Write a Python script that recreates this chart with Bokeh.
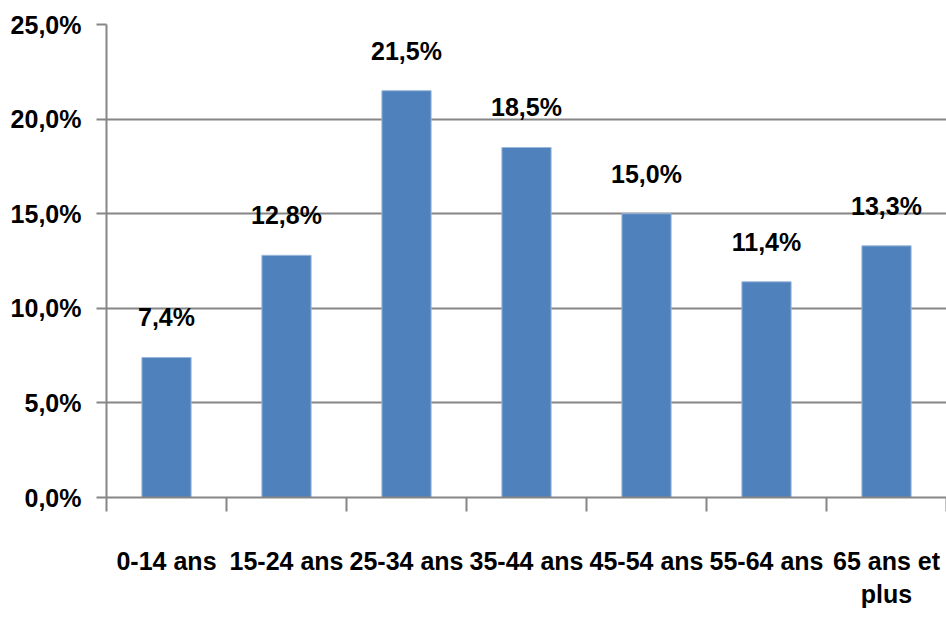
from bokeh.plotting import figure
from bokeh.models import Range1d, FixedTicker, LinearAxis, ColumnDataSource
from bokeh.embed import file_html
from bokeh.resources import INLINE
from bokeh.core.properties import value

categories = ["0-14 ans", "15-24 ans", "25-34 ans", "35-44 ans", "45-54 ans", "55-64 ans", "65 ans et\nplus"]
values = [7.4, 12.8, 21.5, 18.5, 15.0, 11.4, 13.3]
bar_labels = ["7,4%", "12,8%", "21,5%", "18,5%", "15,0%", "11,4%", "13,3%"]
y_ticks = [0, 5, 10, 15, 20, 25]
y_tick_labels = ["0,0%", "5,0%", "10,0%", "15,0%", "20,0%", "25,0%"]

FONT = "Liberation Sans"
GRAY = "#868686"

n = len(categories)
centers = [i + 0.5 for i in range(n)]
src = ColumnDataSource(dict(x=centers, top=values, lab=bar_labels))

p = figure(width=946, height=627, output_backend="svg", toolbar_location=None,
           x_range=Range1d(0, n), y_range=Range1d(0, 25),
           min_border_left=106, min_border_top=24, min_border_bottom=130, min_border_right=0)
p.outline_line_color = None
p.background_fill_color = "white"

p.vbar(x="x", top="top", width=0.41, source=src, fill_color="#4F81BD", line_color="#9BB7DA", line_width=1)
p.text(x="x", y="top", text="lab", source=src, text_align="center", text_baseline="bottom",
       y_offset=-26, text_font=value(FONT), text_font_style="bold", text_font_size="25px", text_color="black")

# y axis
ya = p.yaxis[0]
ya.ticker = FixedTicker(ticks=y_ticks)
ya.major_label_overrides = {t: l for t, l in zip(y_ticks, y_tick_labels)}
ya.axis_line_color = GRAY
ya.axis_line_width = 2
ya.major_tick_line_color = GRAY
ya.major_tick_line_width = 2
ya.major_tick_out = 10
ya.major_tick_in = 0
ya.minor_tick_line_color = None
ya.major_label_text_font = FONT
ya.major_label_text_font_style = "bold"
ya.major_label_text_font_size = "25px"
ya.major_label_text_color = "black"
ya.major_label_standoff = 15

p.ygrid.ticker = FixedTicker(ticks=y_ticks)
p.ygrid.grid_line_color = GRAY
p.ygrid.grid_line_width = 2
p.xgrid.grid_line_color = None

# x axis with boundary ticks (no labels)
xa = p.xaxis[0]
xa.ticker = FixedTicker(ticks=list(range(n + 1)))
xa.major_label_overrides = {i: "" for i in range(n + 1)}
xa.major_label_text_font_size = "1px"
xa.major_label_standoff = 0
xa.axis_line_color = GRAY
xa.axis_line_width = 2
xa.major_tick_line_color = GRAY
xa.major_tick_line_width = 2
xa.major_tick_out = 14
xa.major_tick_in = 0
xa.minor_tick_line_color = None

# label axis at category centers
la = LinearAxis(ticker=FixedTicker(ticks=centers),
                major_label_overrides={c: l for c, l in zip(centers, categories)})
la.axis_line_color = None
la.major_tick_line_color = None
la.minor_tick_line_color = None
la.major_label_text_font = FONT
la.major_label_text_font_style = "bold"
la.major_label_text_font_size = "25px"
la.major_label_text_color = "black"
la.major_label_standoff = 29
p.add_layout(la, "below")

open("out.html", "w").write(file_html(p, INLINE))
